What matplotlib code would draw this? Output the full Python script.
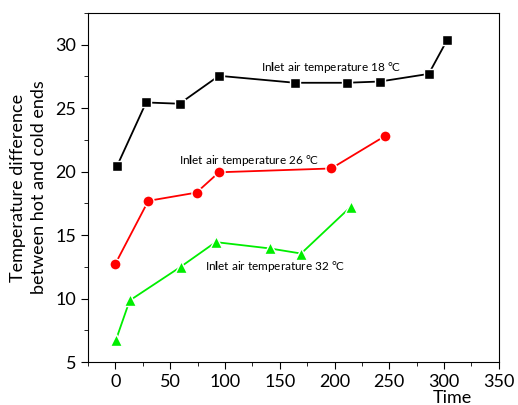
import matplotlib.pyplot as plt
from matplotlib.ticker import MultipleLocator

plt.rcParams['font.family'] = ['Lato', 'DejaVu Sans']
plt.rcParams['mathtext.fontset'] = 'custom'
plt.rcParams['mathtext.rm'] = 'Lato'
plt.rcParams['mathtext.bf'] = 'Lato:bold'

# inlet air 18 C
t18 = [1.5, 28, 58.5, 94.5, 164, 211, 241.5, 286, 303]
d18 = [20.45, 25.45, 25.35, 27.55, 27.0, 27.0, 27.1, 27.7, 30.4]
# inlet air 26 C
t26 = [0, 30, 74, 94.5, 197, 246]
d26 = [12.75, 17.7, 18.35, 19.95, 20.25, 22.8]
# inlet air 32 C
t32 = [0.5, 13, 59.5, 91.5, 141, 169.5, 215]
d32 = [6.75, 9.85, 12.5, 14.45, 13.95, 13.55, 17.25]

labels = [r'In$\mathbf{l}$et air temperature 18 °C',
          r'In$\mathbf{l}$et air temperature 26 °C',
          r'In$\mathbf{l}$et air temperature 32 °C']
label_pos = [(133, 28.2), (58, 20.9), (82, 12.5)]

fig = plt.figure(figsize=(5.18, 4.05), dpi=100)
ax = fig.add_axes([0.17, 0.106, 0.793, 0.862])

ax.plot(t18, d18, '-s', color='black', lw=1.3, ms=7, mec='white', mew=1)
ax.plot(t26, d26, '-o', color='#ff0000', lw=1.3, ms=8, mec='white', mew=1)
ax.plot(t32, d32, '-^', color='#00ee00', lw=1.3, ms=9, mec='white', mew=1)

for txt, (x, y) in zip(labels, label_pos):
    ax.text(x, y, txt, fontsize=8.5, va='center', ha='left')

ax.set_xlim(-25, 350)
ax.set_ylim(5, 32.5)
ax.xaxis.set_major_locator(MultipleLocator(50))
ax.xaxis.set_minor_locator(MultipleLocator(25))
ax.yaxis.set_major_locator(MultipleLocator(5))
ax.yaxis.set_minor_locator(MultipleLocator(2.5))
ax.tick_params(which='both', direction='out', top=False, right=False, labelsize=13)
ax.tick_params(which='major', length=5)
ax.tick_params(which='minor', length=3)

ax.set_ylabel('Temperature difference\nbetween hot and cold ends', fontsize=13, linespacing=1.35, labelpad=6)
fig.text(452 / 518, 1 - 398 / 405, 'Time', fontsize=13, ha='center', va='center')

fig.savefig('out.png', dpi=100)
